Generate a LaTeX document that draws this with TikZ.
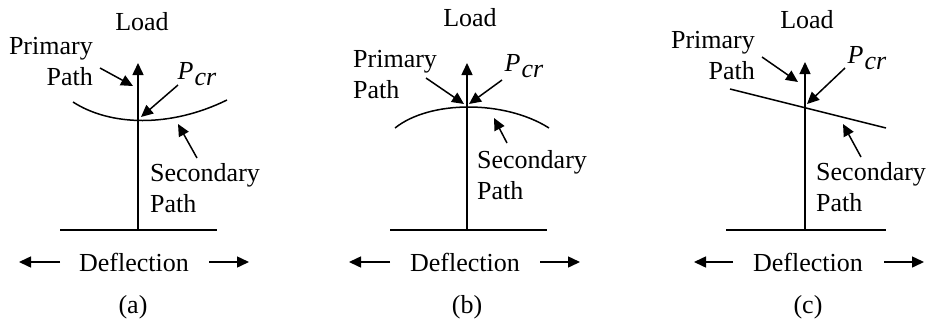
\documentclass[tikz,border=0pt]{standalone}
\usepackage{fontspec}
\setmainfont{Liberation Serif}
\newfontfamily\tnr{Liberation Serif}
\usetikzlibrary{arrows.meta}
\tikzset{
  lbl/.style={inner sep=0pt, font=\tnr\fontsize{26}{31}\selectfont},
  ln/.style={line width=1.5pt},
  arr/.style={line width=1.5pt, -{Triangle[length=12pt,width=11pt]}},
}
\newcommand{\pcrtext}{\textit{P}\hspace{1pt}\raisebox{-6pt}{\textit{cr}}}
\begin{document}
\begin{tikzpicture}[x=1pt,y=-1pt]
\useasboundingbox (0,0) rectangle (929,322);
% ---------- (a) ----------
\node[lbl] (aload) at (142,22) {Load};
\node[lbl,align=right,anchor=east] (aprim) at (93,62) {Primary\\Path};
\node[lbl] (apcr) at (197,74) {\pcrtext};
\node[lbl,align=left,anchor=west] (asec) at (150,188) {Secondary\\Path};
\node[lbl] (adefl) at (134,262) {Deflection};
\node[lbl] (acap) at (133,307) {(a)};
\coordinate (abot) at (138,230);
\coordinate (atop) at (138,63);
\coordinate (abl) at (60,230);
\coordinate (abr) at (217,230);
\draw[ln] (abl) -- (abr);
\draw[arr] (abot) -- (atop);
\coordinate (ac1) at (73,102);
\coordinate (ac2) at (227,100);
\draw[ln] (ac1) .. controls (110,126) and (170,128) .. (ac2);
\coordinate (apa1) at (100,68); \coordinate (apa2) at (133,86);
\draw[arr] (apa1) -- (apa2);
\coordinate (apc1) at (178,85); \coordinate (apc2) at (141,117);
\draw[arr] (apc1) -- (apc2);
\coordinate (asa1) at (197,158); \coordinate (asa2) at (178,124);
\draw[arr] (asa1) -- (asa2);
\coordinate (adl1) at (60,262); \coordinate (adl2) at (19,262);
\coordinate (adr1) at (209,262); \coordinate (adr2) at (249,262);
\draw[arr] (adl1) -- (adl2);
\draw[arr] (adr1) -- (adr2);
% ---------- (b) ----------
\node[lbl] (bload) at (470,18) {Load};
\node[lbl,align=left,anchor=west] (bprim) at (353,75) {Primary\\Path};
\node[lbl] (bpcr) at (524,66) {\pcrtext};
\node[lbl,align=left,anchor=west] (bsec) at (477,175) {Secondary\\Path};
\node[lbl] (bdefl) at (465,262) {Deflection};
\node[lbl] (bcap) at (467,307) {(b)};
\coordinate (bbot) at (467,230);
\coordinate (btop) at (467,63);
\coordinate (bbl) at (390,230);
\coordinate (bbr) at (547,230);
\draw[ln] (bbl) -- (bbr);
\draw[arr] (bbot) -- (btop);
\coordinate (bc1) at (395,128);
\coordinate (bc2) at (549,128);
\draw[ln] (bc1) .. controls (430,100) and (505,100) .. (bc2);
\coordinate (bpa1) at (426,78); \coordinate (bpa2) at (464,104);
\draw[arr] (bpa1) -- (bpa2);
\coordinate (bpc1) at (502,80); \coordinate (bpc2) at (469,104);
\draw[arr] (bpc1) -- (bpc2);
\coordinate (bsa1) at (507,143); \coordinate (bsa2) at (494,118);
\draw[arr] (bsa1) -- (bsa2);
\coordinate (bdl1) at (390,262); \coordinate (bdl2) at (349,262);
\coordinate (bdr1) at (540,262); \coordinate (bdr2) at (580,262);
\draw[arr] (bdl1) -- (bdl2);
\draw[arr] (bdr1) -- (bdr2);
% ---------- (c) ----------
\node[lbl] (cload) at (807,20) {Load};
\node[lbl,align=right,anchor=east] (cprim) at (755,56) {Primary\\Path};
\node[lbl] (cpcr) at (867,58) {\pcrtext};
\node[lbl,align=left,anchor=west] (csec) at (816,187) {Secondary\\Path};
\node[lbl] (cdefl) at (808,262) {Deflection};
\node[lbl] (ccap) at (808,307) {(c)};
\coordinate (cbot) at (805,230);
\coordinate (ctop) at (805,62);
\coordinate (cbl) at (726,230);
\coordinate (cbr) at (886,230);
\draw[ln] (cbl) -- (cbr);
\draw[arr] (cbot) -- (ctop);
\coordinate (cl1) at (730,89);
\coordinate (cl2) at (886,128);
\draw[ln] (cl1) -- (cl2);
\coordinate (cpa1) at (762,57); \coordinate (cpa2) at (798,82);
\draw[arr] (cpa1) -- (cpa2);
\coordinate (cpc1) at (845,68); \coordinate (cpc2) at (807,104);
\draw[arr] (cpc1) -- (cpc2);
\coordinate (csa1) at (861,157); \coordinate (csa2) at (843,124);
\draw[arr] (csa1) -- (csa2);
\coordinate (cdl1) at (733,262); \coordinate (cdl2) at (694,262);
\coordinate (cdr1) at (884,262); \coordinate (cdr2) at (924,262);
\draw[arr] (cdl1) -- (cdl2);
\draw[arr] (cdr1) -- (cdr2);
\end{tikzpicture}
\end{document}
